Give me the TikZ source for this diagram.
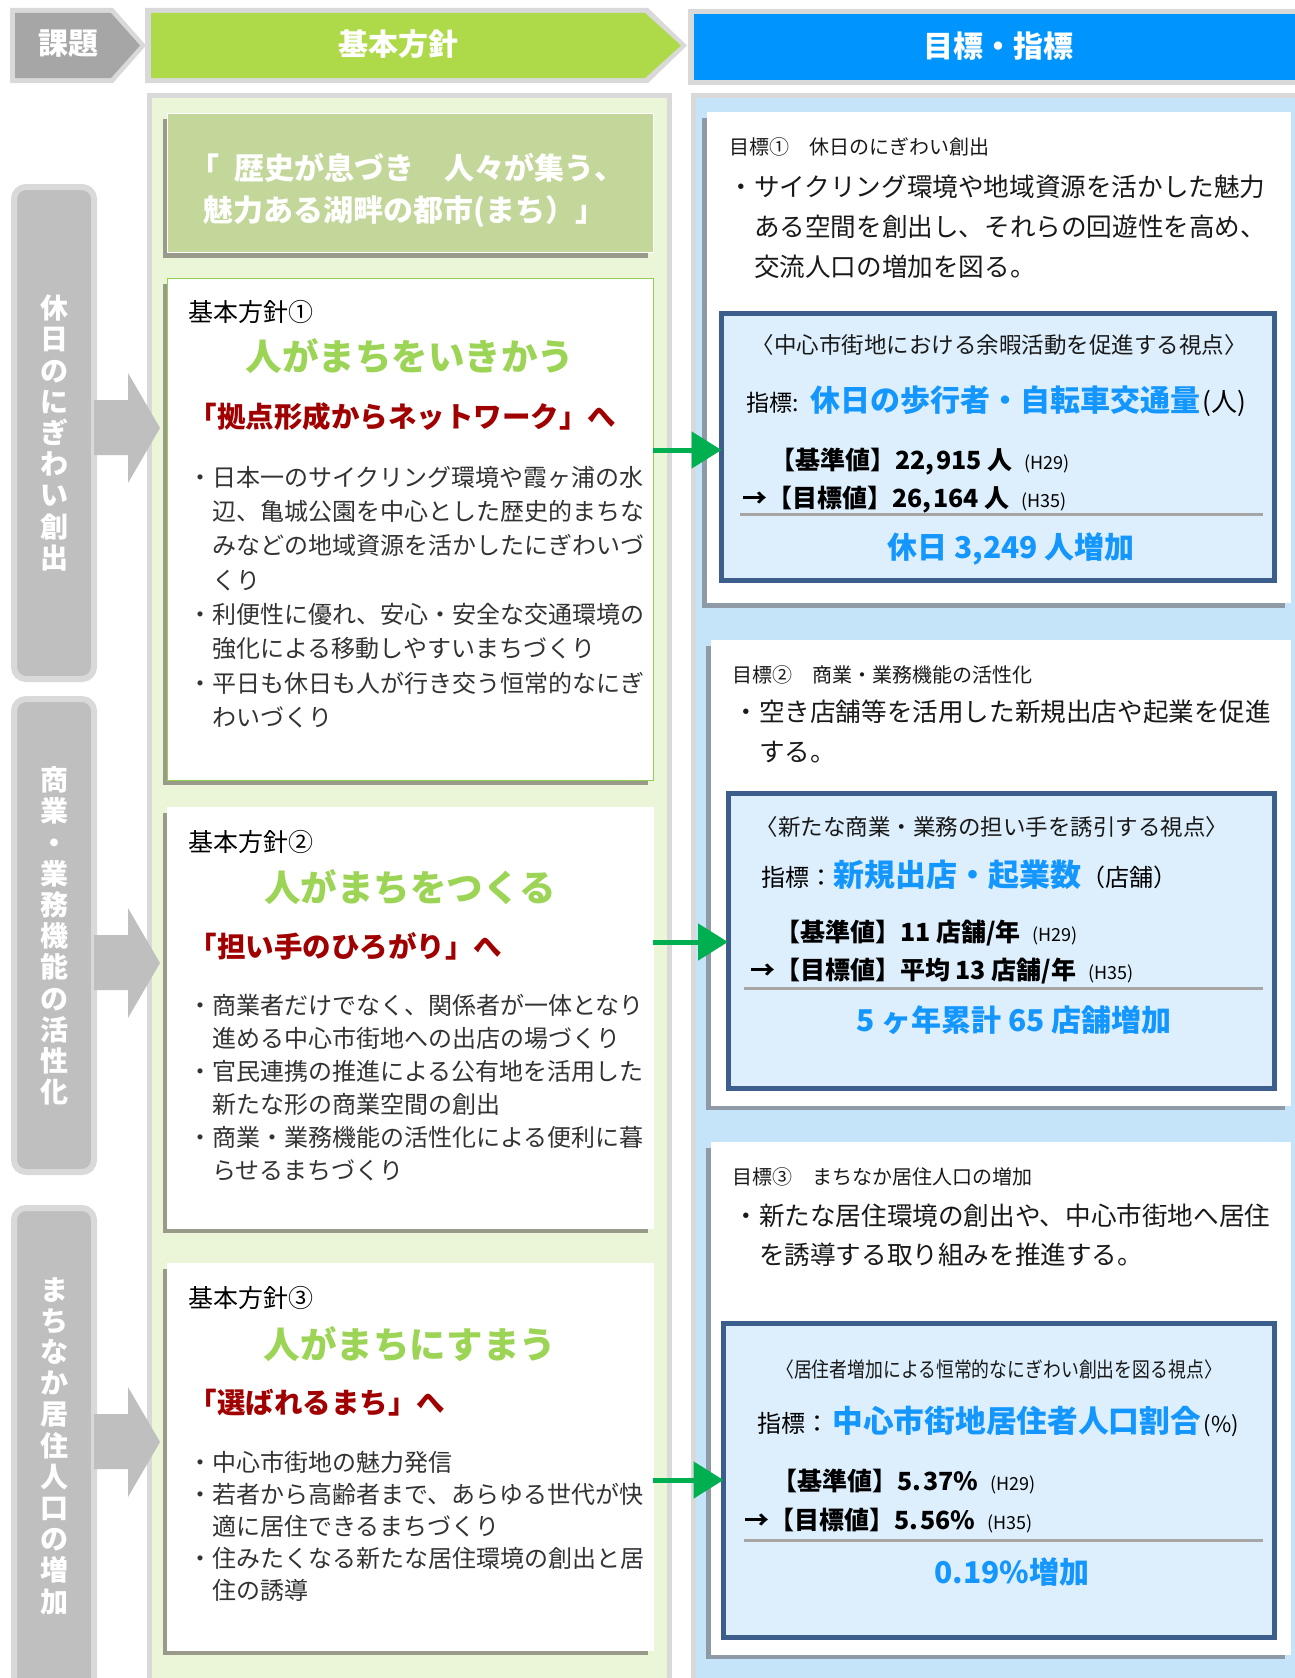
\documentclass[tikz,border=0pt]{standalone}
\usepackage{fontspec}
\usepackage{graphicx}
\newfontfamily\jp{Noto Sans CJK JP}
\newcommand\fs[1]{\fontsize{#1}{#1}\selectfont}
\definecolor{hdrgray}{HTML}{D9D9D9}
\definecolor{kadai}{HTML}{A6A6A6}
\definecolor{hgreen}{HTML}{AEDA4A}
\definecolor{hblue}{HTML}{0094FF}
\definecolor{lpanel}{HTML}{EBF5D8}
\definecolor{rpanel}{HTML}{C5E4FA}
\definecolor{slogan}{HTML}{C4D79B}
\definecolor{gtext}{HTML}{9CD455}
\definecolor{dred}{HTML}{A00000}
\definecolor{tblue}{HTML}{1496FF}
\definecolor{indborder}{HTML}{3C5E8C}
\definecolor{indfill}{HTML}{DDEFFC}
\definecolor{catfill}{HTML}{BFBFBF}
\definecolor{garrow}{HTML}{00B050}
\definecolor{lshadow}{HTML}{9A9A8A}
\definecolor{rshadow}{HTML}{8E9AA6}
\definecolor{boxgreen}{HTML}{92D050}
\definecolor{bodytext}{HTML}{333333}
\definecolor{sepgray}{HTML}{A6A6A6}
\usetikzlibrary{arrows.meta,calc}
\begin{document}
\begin{tikzpicture}[x=1pt,y=-1pt,
  every node/.style={inner sep=0pt,outer sep=0pt},
  tx/.style={font={\jp\fs{#1}}, anchor=base west},
  tc/.style={font={\jp\fs{#1}}, anchor=base},
  body/.style={tx=24, text=bodytext},
  gbody/.style={tx=25.6, text=black!90},
  gtitle/.style={tx=20, text=black!90},
  ttl/.style={font={\jp\fs{36.5}\bfseries}, text=gtext, anchor=base},
  redt/.style={font={\jp\fs{28.5}\bfseries}, text=dred, anchor=base west},
  hdr/.style={font={\jp\fs{30}\bfseries}, text=white, anchor=base},
  valt/.style={font={\jp\fs{25}\bfseries}, text=black, anchor=base west},
  tot/.style={font={\jp\fs{30}\bfseries}, text=tblue, anchor=base},
  view/.style={font={\jp\fs{22.5}}, text=black!90, anchor=base},
  wbox/.style={draw=white, line width=1pt, fill=white, anchor=north west},
  indbox/.style={draw=indborder, line width=5pt, fill=indfill, anchor=north west},
  catbox/.style={draw=hdrgray, line width=6pt, fill=catfill, rounded corners=12pt, anchor=north west},
  cattext/.style={font={\jp\fontsize{28}{31.2}\selectfont\bfseries}, text=white, align=center},
  garr/.style={draw=garrow, line width=5pt, -{Triangle[length=30pt,width=36pt]}},
  sepline/.style={draw=sepgray, line width=3pt},
]
\useasboundingbox (0,0) rectangle (1295,1678);
\fill[white] (0,0) rectangle (1295,1678);

% ---------- panels ----------
\draw[draw=hdrgray, line width=5pt, fill=lpanel] (149.5,95.5) rectangle (669.5,1700);
\draw[draw=hdrgray, line width=5pt, fill=rpanel] (693,95.5) rectangle (1310,1700);

% ---------- headers ----------
\fill[hdrgray] (10,8) -- (113,8) -- (146,45.5) -- (113,83) -- (10,83) -- cycle;
\fill[kadai] (15,13) -- (111,13) -- (140,45.5) -- (111,78) -- (15,78) -- cycle;
\fill[hdrgray] (145,8) -- (648,8) -- (687,45.5) -- (648,83) -- (145,83) -- cycle;
\fill[hgreen] (151,13) -- (645,13) -- (681,45.5) -- (645,78) -- (151,78) -- cycle;
\fill[hdrgray] (688,9) rectangle (1300,85);
\fill[hblue] (694,14) rectangle (1300,80);
\node[hdr] (hk) at (68,55) {課題};
\node[hdr] (hb) at (398,56) {基本方針};
\node[hdr] (hm) at (998,58) {目標・指標};

% ---------- category boxes ----------
\node[catbox, minimum width=80, minimum height=492] (k1) at (14,187) {};
\node[catbox, minimum width=80, minimum height=473] (k2) at (14,699) {};
\node[catbox, minimum width=80, minimum height=600] (k3) at (14,1208) {};
\fill[catfill] (94,400) -- (128,400) -- (128,373) -- (160,428) -- (128,483) -- (128,455) -- (94,455) -- cycle;
\fill[catfill] (94,935) -- (128,935) -- (128,908) -- (160,963) -- (128,1018) -- (128,990) -- (94,990) -- cycle;
\fill[catfill] (94,1414) -- (128,1414) -- (128,1387) -- (160,1442) -- (128,1497) -- (128,1469) -- (94,1469) -- cycle;
\node[cattext] (c1) at (54,433) {休\\日\\の\\に\\ぎ\\わ\\い\\創\\出};
\node[cattext] (c2) at (54,936) {商\\業\\・\\業\\務\\機\\能\\の\\活\\性\\化};
\node[cattext] (c3) at (54,1446) {ま\\ち\\な\\か\\居\\住\\人\\口\\の\\増\\加};

% ---------- left boxes ----------
\fill[lshadow] (162.5,119) rectangle (648,258);
\fill[lshadow] (162.5,284) rectangle (648,785);
\fill[lshadow] (162.5,813) rectangle (648,1233);
\fill[lshadow] (162.5,1269) rectangle (648,1655);
\node[wbox, fill=slogan, minimum width=485.5, minimum height=139] (slog) at (167.5,113) {};
\node[wbox, draw=boxgreen, minimum width=485.5, minimum height=502] (box1) at (167.5,278) {};
\node[wbox, minimum width=485.5, minimum height=421] (box2) at (167.5,807) {};
\node[wbox, minimum width=485.5, minimum height=387] (box3) at (167.5,1263) {};

% ---------- right boxes ----------
\fill[rshadow] (702,118) rectangle (1285,608);
\fill[rshadow] (706,646) rectangle (1285,1110);
\fill[rshadow] (706,1148) rectangle (1285,1659);
\node[wbox, minimum width=583, minimum height=490] (goal1) at (707,112) {};
\node[wbox, minimum width=579, minimum height=465] (goal2) at (711,640) {};
\node[wbox, minimum width=579, minimum height=512] (goal3) at (711,1142) {};
\node[indbox, minimum width=553, minimum height=267] (ind1) at (721.5,313.5) {};
\node[indbox, minimum width=546.5, minimum height=295] (ind2) at (728,793.5) {};
\node[indbox, minimum width=551, minimum height=314] (ind3) at (723.5,1323.5) {};

% ---------- green connectors ----------
\coordinate (ga1) at (0,450);
\coordinate (ga2) at (0,942);
\coordinate (ga3) at (0,1480);
\draw[garr] (box1.east |- ga1) -- (ind1.west |- ga1);
\draw[garr] (box2.east |- ga2) -- (ind2.west |- ga2);
\draw[garr] (box3.east |- ga3) -- (ind3.west |- ga3);

% ---------- slogan ----------
\node[tx=30, text=white, font={\jp\fs{30}\bfseries}] (sl1) at (189,179) {「\hspace{0.5em}歴史が息づき　人々が集う、};
\node[tx=30, text=white, font={\jp\fs{30}\bfseries}] (sl2) at (203,221) {魅力ある湖畔の都市(まち）」};

% ---------- box 1 ----------
\node[tx=25] (p1h) at (188,321) {基本方針①};
\node[ttl] (p1t) at (410,370) {人がまちをいきかう};
\node[redt] (p1s) at (188.5,427) {「拠点形成からネットワーク」へ};
\node[body] (p1a) at (188,486) {・日本一のサイクリング環境や霞ヶ浦の水};
\node[body] (p1b) at (212,520) {辺、亀城公園を中心とした歴史的まちな};
\node[body] (p1c) at (212,554) {みなどの地域資源を活かしたにぎわいづ};
\node[body] (p1d) at (212,589) {くり};
\node[body] (p1e) at (188,623) {・利便性に優れ、安心・安全な交通環境の};
\node[body] (p1f) at (212,657) {強化による移動しやすいまちづくり};
\node[body] (p1g) at (188,692) {・平日も休日も人が行き交う恒常的なにぎ};
\node[body] (p1i) at (212,726) {わいづくり};

% ---------- box 2 ----------
\node[tx=25] (p2h) at (188,851) {基本方針②};
\node[ttl] (p2t) at (410,901) {人がまちをつくる};
\node[redt] (p2s) at (188.5,957) {「担い手のひろがり」へ};
\node[body] (p2a) at (188,1014) {・商業者だけでなく、関係者が一体となり};
\node[body] (p2b) at (212,1047) {進める中心市街地への出店の場づくり};
\node[body] (p2c) at (188,1080) {・官民連携の推進による公有地を活用した};
\node[body] (p2d) at (212,1113) {新たな形の商業空間の創出};
\node[body] (p2e) at (188,1146) {・商業・業務機能の活性化による便利に暮};
\node[body] (p2f) at (212,1179) {らせるまちづくり};

% ---------- box 3 ----------
\node[tx=25] (p3h) at (188,1307) {基本方針③};
\node[ttl] (p3t) at (410,1358) {人がまちにすまう};
\node[redt] (p3s) at (188.5,1413) {「選ばれるまち」へ};
\node[body] (p3a) at (188,1471) {・中心市街地の魅力発信};
\node[body] (p3b) at (188,1503) {・若者から高齢者まで、あらゆる世代が快};
\node[body] (p3c) at (212,1535) {適に居住できるまちづくり};
\node[body] (p3d) at (188,1567) {・住みたくなる新たな居住環境の創出と居};
\node[body] (p3e) at (212,1599) {住の誘導};

% ---------- goal 1 ----------
\node[gtitle] (g1t) at (729,154.4) {目標①　休日のにぎわい創出};
\node[gbody] (g1a) at (728.4,196.5) {・サイクリング環境や地域資源を活かした魅力};
\node[gbody] (g1b) at (754,236.5) {ある空間を創出し、それらの回遊性を高め、};
\node[gbody] (g1c) at (754,276.5) {交流人口の増加を図る。};
\node[view] (v1) at (999,353) {〈中心市街地における余暇活動を促進する視点〉};
\node[tx=23, text=black] (i1) at (746,411) {指標:\hspace{12pt}{\fs{30}\bfseries\color{tblue}休日の歩行者・自転車交通量}\hspace{2pt}{\fs{26}(人)}};
\node[valt] (b1) at (770,469) {【基準値】22,\kern2pt 915 人\hspace{12pt}{\fs{18}\mdseries(H29)}};
\node[valt] (m1) at (742,507) {→【目標値】26,\kern2pt 164 人\hspace{12pt}{\fs{18}\mdseries(H35)}};
\draw[sepline] (740,514) -- (1263,514);
\node[tot] (t1) at (1011,558) {休日 3,249 人増加};

% ---------- goal 2 ----------
\node[gtitle] (g2t) at (732,682.4) {目標②　商業・業務機能の活性化};
\node[gbody] (g2a) at (733.4,721.5) {・空き店舗等を活用した新規出店や起業を促進};
\node[gbody] (g2b) at (759,761.5) {する。};
\node[view] (v2) at (992,835) {〈新たな商業・業務の担い手を誘引する視点〉};
\node[tx=24, text=black] (i2) at (761,886) {指標：{\fs{31}\bfseries\color{tblue}新規出店・起業数}（店舗）};
\node[valt] (b2) at (775,941) {【基準値】11 店舗/年\hspace{12pt}{\fs{18}\mdseries(H29)}};
\node[valt] (m2) at (750,979) {→【目標値】平均 13 店舗/年\hspace{12pt}{\fs{18}\mdseries(H35)}};
\draw[sepline] (744,988) -- (1263,988);
\node[tot] (t2) at (1014,1031) {5 ヶ年累計 65 店舗増加};

% ---------- goal 3 ----------
\node[gtitle] (g3t) at (732,1184.4) {目標③　まちなか居住人口の増加};
\node[gbody] (g3a) at (733.4,1225.5) {・新たな居住環境の創出や、中心市街地へ居住};
\node[gbody] (g3b) at (759,1264.5) {を誘導する取り組みを推進する。};
\node[view] (v3) at (999,1377) {\scalebox{0.85}[1]{\fs{21}〈居住者増加による恒常的なにぎわい創出を図る視点〉}};
\node[tx=24, text=black] (i3) at (757.5,1432) {指標：\hspace{3pt}{\fs{30.7}\bfseries\color{tblue}中心市街地居住者人口割合}\hspace{3pt}{\fs{22}(\%)}};
\node[valt] (b3) at (772,1490) {【基準値】5.\kern2pt 37\%\hspace{12pt}{\fs{18}\mdseries(H29)}};
\node[valt] (m3) at (744,1529) {→【目標値】5.\kern2pt 56\%\hspace{12pt}{\fs{18}\mdseries(H35)}};
\draw[sepline] (744,1540) -- (1263,1540);
\node[tot] (t3) at (1012,1583) {0.19\%増加};
\end{tikzpicture}
\end{document}
